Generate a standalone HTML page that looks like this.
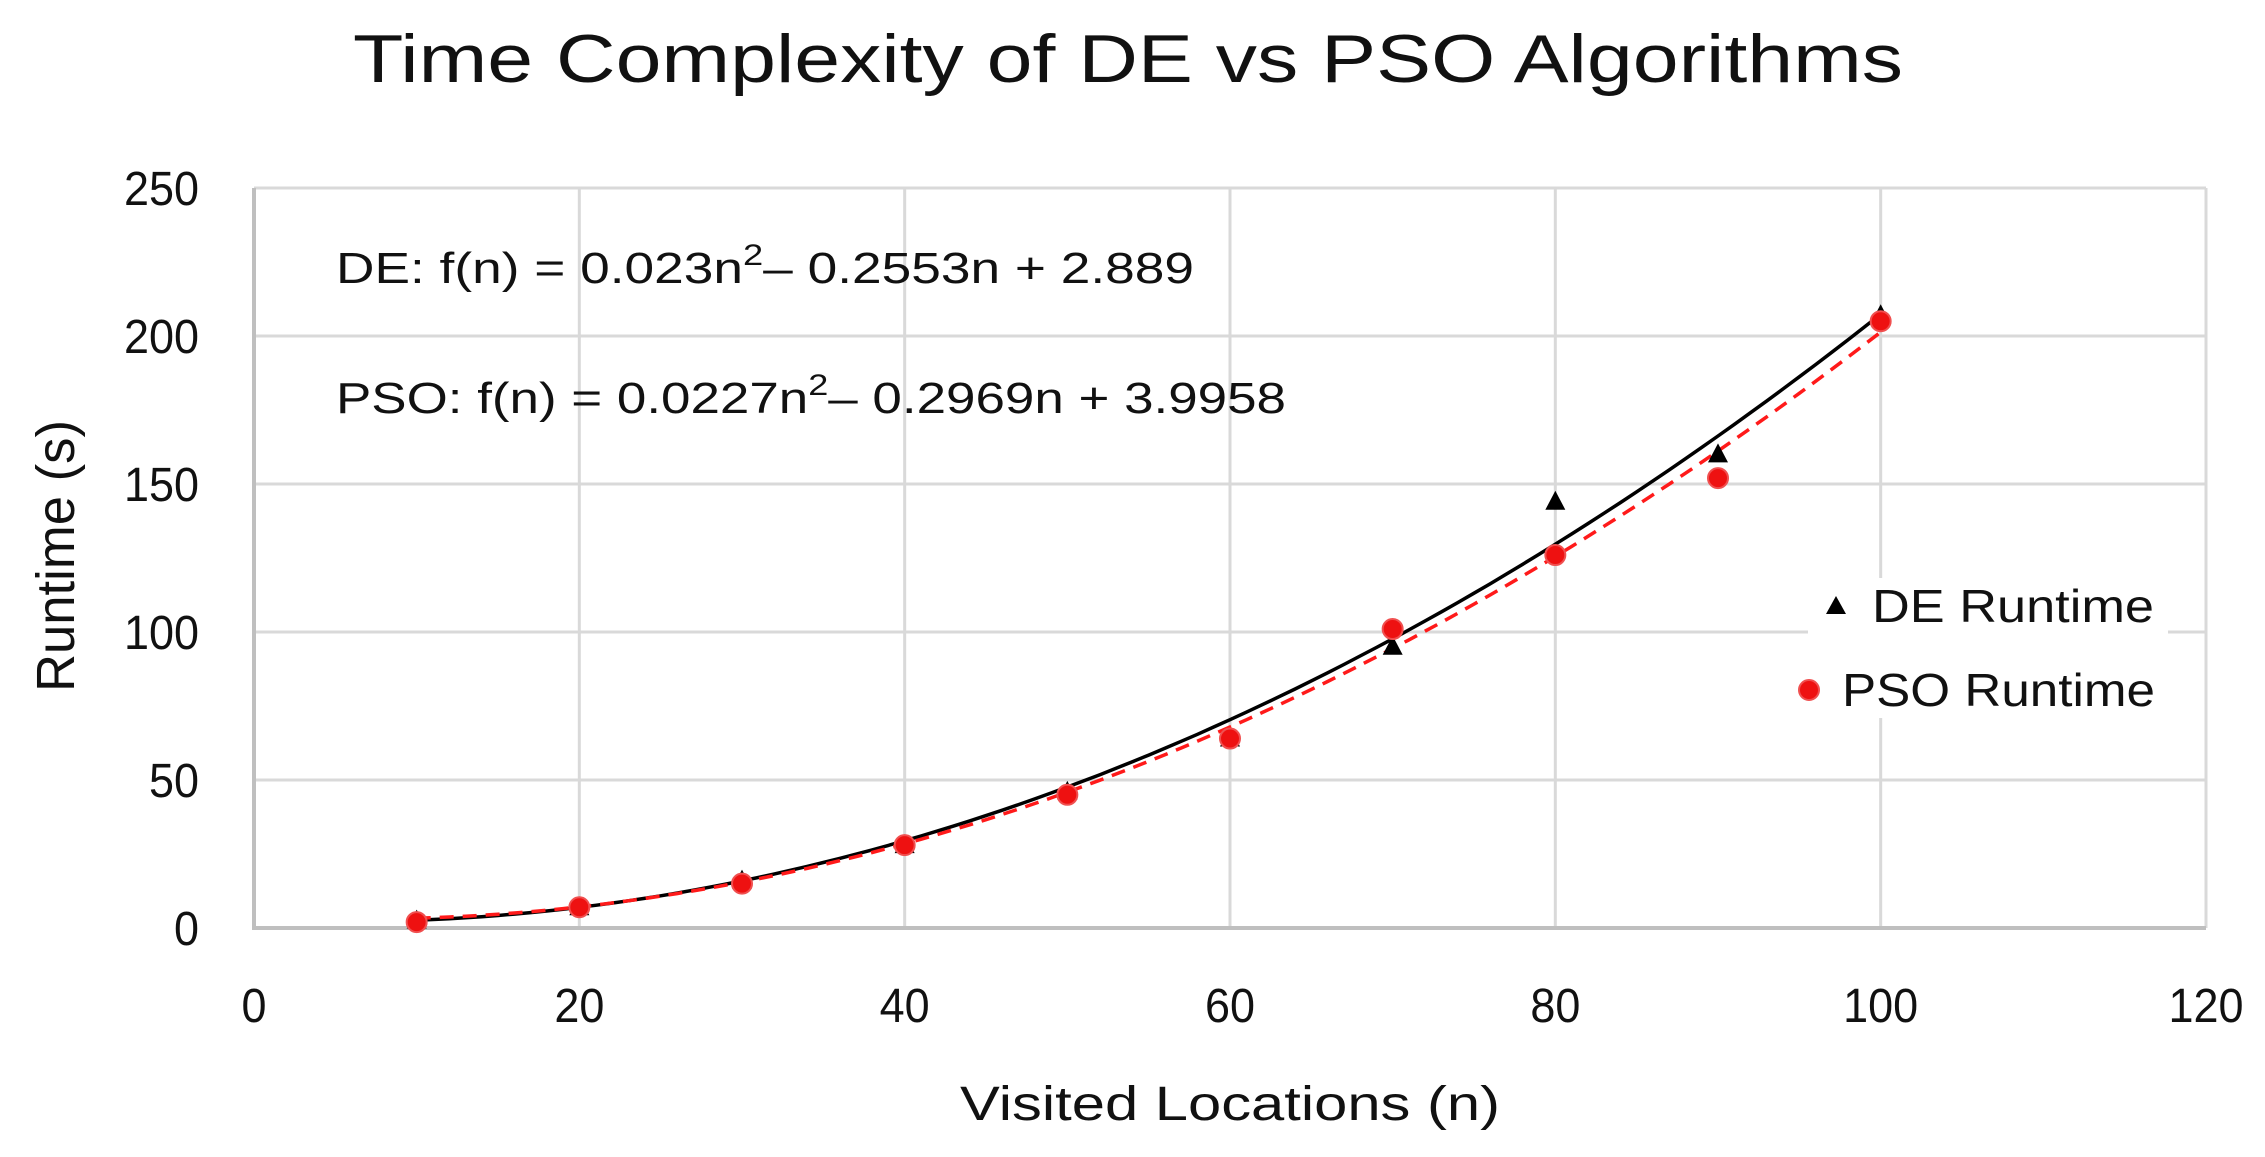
<!DOCTYPE html>
<html><head><meta charset="utf-8"><style>
html,body{margin:0;padding:0;background:#fff;}
svg{display:block;font-family:"Liberation Sans",sans-serif;}
</style></head><body>
<svg id="s" width="2265" height="1157" viewBox="0 0 2265 1157" xmlns="http://www.w3.org/2000/svg">
<rect width="2265" height="1157" fill="#fff"/>
<g id="grid" stroke="#d9d9d9" stroke-width="3"></g>
<line x1="254" y1="188" x2="254" y2="929" stroke="#bfbfbf" stroke-width="4"/>
<line x1="252" y1="928" x2="2206" y2="928" stroke="#bfbfbf" stroke-width="4"/>
<text x="1128" y="82" font-size="68" text-anchor="middle" textLength="1550" lengthAdjust="spacingAndGlyphs" fill="#111">Time Complexity of DE vs PSO Algorithms</text>
<g font-size="48" fill="#111" text-anchor="end" id="yl"></g>
<g font-size="48" fill="#111" text-anchor="middle" id="xl"></g>
<text x="1230" y="1120" font-size="48" text-anchor="middle" textLength="540" lengthAdjust="spacingAndGlyphs" fill="#111">Visited Locations (n)</text>
<text transform="translate(74,556) rotate(-90)" font-size="54" text-anchor="middle" textLength="272" lengthAdjust="spacingAndGlyphs" fill="#111">Runtime (s)</text>
<text x="336" y="283" font-size="44" textLength="858" lengthAdjust="spacingAndGlyphs" fill="#111">DE: f(n) = 0.023n<tspan dy="-18" font-size="30">2</tspan><tspan dy="18">– 0.2553n + 2.889</tspan></text>
<text x="336" y="413" font-size="44" textLength="950" lengthAdjust="spacingAndGlyphs" fill="#111">PSO: f(n) = 0.0227n<tspan dy="-18" font-size="30">2</tspan><tspan dy="18">– 0.2969n + 3.9958</tspan></text>
<path id="de" fill="none" stroke="#000" stroke-width="3.5"/>
<path id="pso" fill="none" stroke="#ff1a1a" stroke-width="3.5" stroke-dasharray="14,9"/>
<g id="mk"></g>
<rect x="1808" y="578" width="360" height="140" fill="#fff"/>
<polygon points="1836,596 1826,614 1846,614" fill="#000"/>
<text x="1872" y="622" font-size="46" textLength="282" lengthAdjust="spacingAndGlyphs" fill="#111">DE Runtime</text>
<circle cx="1809" cy="690" r="10" fill="#ee1111" stroke="#f05050" stroke-width="2"/>
<text x="1842" y="706" font-size="46" textLength="313" lengthAdjust="spacingAndGlyphs" fill="#111">PSO Runtime</text>
</svg>
<script>
var L=254,R=2206,T=188,B=928;
function X(v){return L+(R-L)*v/120;}function Y(v){return B-(B-T)*v/250;}
var g=document.getElementById('grid'),h='';
for(var i=20;i<=120;i+=20)h+='<line x1="'+X(i)+'" y1="'+T+'" x2="'+X(i)+'" y2="'+B+'"/>';
for(var j=50;j<=250;j+=50)h+='<line x1="'+L+'" y1="'+Y(j)+'" x2="'+R+'" y2="'+Y(j)+'"/>';
g.innerHTML=h;
var yl='';for(j=0;j<=250;j+=50)yl+='<text x="199" y="'+(Y(j)+17)+'" textLength="'+(String(j).length*25)+'" lengthAdjust="spacingAndGlyphs">'+j+'</text>';
document.getElementById('yl').innerHTML=yl;
var xl='';for(i=0;i<=120;i+=20)xl+='<text x="'+X(i)+'" y="1022" textLength="'+(String(i).length*25)+'" lengthAdjust="spacingAndGlyphs">'+i+'</text>';
document.getElementById('xl').innerHTML=xl;
function curve(a,b,c){var d='';for(var n=10;n<=100.01;n+=1){var v=a*n*n+b*n+c;d+=(n==10?'M':'L')+X(n).toFixed(1)+','+Y(v).toFixed(1);}return d;}
document.getElementById('de').setAttribute('d',curve(0.023,-0.2553,2.889));
document.getElementById('pso').setAttribute('d',curve(0.0227,-0.2969,3.9958));
var de=[2.5,7,16,28,46,64,95,144,160,207],ps=[2,7,15,28,45,64,101,126,152,205],m='';
for(i=0;i<10;i++){var x=X(10*(i+1)),y=Y(de[i]);
m+='<polygon points="'+x+','+(y-11)+' '+(x-10)+','+(y+8)+' '+(x+10)+','+(y+8)+'" fill="#000"/>';}
for(i=0;i<10;i++){var x=X(10*(i+1));
m+='<circle cx="'+x+'" cy="'+Y(ps[i])+'" r="10" fill="#ee1111" stroke="#f05050" stroke-width="2"/>';}
document.getElementById('mk').innerHTML=m;
</script>
</body></html>
